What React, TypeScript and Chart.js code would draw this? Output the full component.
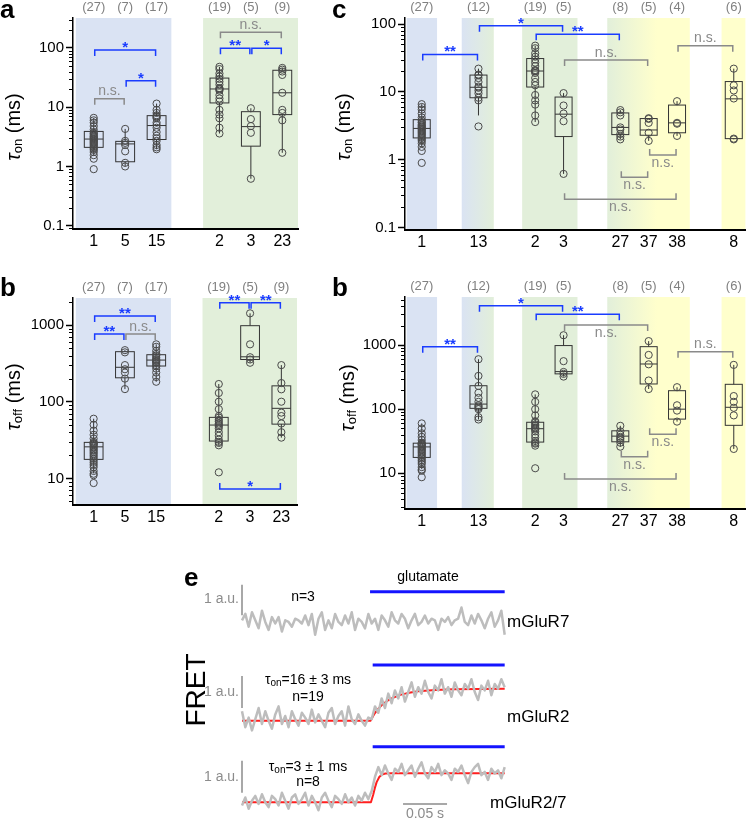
import React, { useEffect, useRef } from "react";
import { Chart, registerables } from "chart.js";
Chart.register(...registerables);

const FONT = "Arial, 'Liberation Sans', Helvetica, sans-serif";

// ---------------- τon (ms) values per construct ----------------
const onR1 = [0.9, 1.35, 1.55, 1.75, 1.9, 2.0, 2.1, 2.2, 2.3, 2.4, 2.5, 2.6, 2.7, 2.8, 2.9, 3.0, 3.1, 3.2, 3.3, 3.5, 3.6, 3.8, 4.2, 4.8, 5.5, 6.0, 6.6];
const onR5 = [1.0, 1.15, 1.8, 2.3, 2.5, 2.7, 4.3];
const onR15 = [1.95, 2.1, 2.3, 2.7, 3.0, 3.3, 3.8, 4.5, 5.0, 5.5, 6.5, 6.8, 7.0, 7.3, 8.0, 9.0, 11.5];
const onR2 = [3.6, 4.5, 6.5, 7.5, 9.0, 12.5, 14, 16, 19, 20, 20.5, 21, 24, 27, 30, 33, 37, 44, 48];
const onR3 = [0.62, 3.7, 4.8, 6.3, 9.6];
const onR23 = [1.7, 6.0, 8.0, 9.0, 17.5, 35, 40, 43, 46];
const onR13 = [3.1, 7.5, 8.2, 9.5, 10.5, 11.5, 12, 14, 16, 17.5, 18, 22];
const onR27 = [2.0, 2.2, 2.4, 2.8, 3.0, 4.5, 5.0, 5.4];
const onR37 = [1.9, 2.5, 3.5, 4.0, 4.1];
const onR38 = [2.25, 3.4, 3.5, 7.3];
const onR8 = [2.0, 2.05, 8.0, 10.5, 12.5, 22];

// box summaries: [whisker low, q1, median, q3, whisker high]
const onBoxR1 = [1.55, 2.1, 2.9, 3.9, 6.6];
const onBoxR5 = [1.0, 1.2, 2.4, 2.65, 4.3];
const onBoxR15 = [1.95, 2.85, 4.9, 7.2, 11.5];
const onBoxR2 = [3.6, 11.8, 20.3, 31, 48];
const onBoxR3 = [0.62, 2.2, 4.7, 8.4, 9.6];
const onBoxR23 = [1.7, 7.5, 17.5, 42, 46];
const onBoxR13 = [4.5, 8.2, 11.7, 17.7, 22];
const onBoxR27 = [2.0, 2.35, 3.0, 4.9, 5.4];
const onBoxR37 = [1.9, 2.3, 2.75, 4.05, 4.1];
const onBoxR38 = [2.25, 2.5, 3.5, 6.4, 7.3];
const onBoxR8 = [2.0, 2.05, 7.9, 14.2, 22];

// ---------------- τoff (ms) values per construct ----------------
const offR1 = [8.7, 11, 11.5, 12.5, 14, 15, 16, 17, 18, 19, 20, 21, 22, 23, 24, 25, 26, 27, 28, 28.5, 29, 30, 33, 37, 42, 50, 60];
const offR5 = [146, 200, 240, 265, 300, 440, 470];
const offR15 = [182, 210, 240, 270, 290, 300, 320, 330, 340, 350, 360, 380, 400, 420, 460, 520, 560];
const offR2 = [12, 27, 29, 30, 32, 36, 40, 45, 48, 50, 52, 55, 58, 62, 65, 80, 100, 130, 170];
const offR3 = [322, 355, 380, 560, 1420];
const offR23 = [34, 40, 52, 65, 72, 100, 145, 175, 300];
const offR13 = [69, 75, 100, 105, 110, 115, 130, 150, 180, 230, 330, 600];
const offR27 = [26, 30, 33, 35, 37, 40, 45, 55];
const offR37 = [206, 280, 500, 700, 1150];
const offR38 = [64, 95, 115, 220];
const offR8 = [24, 80, 105, 130, 160, 490];

const offBoxR1 = [11.6, 17.7, 25.8, 29.5, 60];
const offBoxR5 = [146, 205, 281, 449, 470];
const offBoxR15 = [182, 292, 349, 410, 560];
const offBoxR2 = [27, 30.7, 49.6, 62.5, 170];
const offBoxR3 = [322, 355, 385, 980, 1420];
const offBoxR23 = [34, 51, 82, 161, 300];
const offBoxR13 = [69, 103, 120, 232, 600];
const offBoxR27 = [26, 31, 38, 46, 55];
const offBoxR37 = [206, 247, 506, 942, 1150];
const offBoxR38 = [64, 70, 100, 194, 220];
const offBoxR8 = [24, 56, 107, 244, 490];

// ---------------- categories ----------------
const shortCats = ["1", "5", "15", "2", "3", "23"];
const shortPos = [0, 1, 2, 4, 5, 6];
const shortN = ["(27)", "(7)", "(17)", "(19)", "(5)", "(9)"];
const longCats = ["1", "13", "2", "3", "27", "37", "38", "8"];
const longPos = [0, 2, 4, 5, 7, 8, 9, 11];
const longN = ["(27)", "(12)", "(19)", "(5)", "(8)", "(5)", "(4)", "(6)"];

const onTicks = [0.1, 1, 10, 100];
const offTicks = [10, 100, 1000];

// significance brackets: [from, to, level (ms), label, tips, label side]
const bracketsA = [
  [0, 2, 92, "*", "down", "above"],
  [1, 2, 28, "*", "down", "above"],
  [0, 1, 13.9, "n.s.", "down", "above"],
  [4, 6, 184, "n.s.", "down", "above"],
  [4, 5, 99, "**", "down", "above"],
  [5, 6, 99, "*", "down", "above"],
];
const bracketsBL = [
  [0, 2, 1310, "**", "down", "above"],
  [0, 1, 763, "**", "down", "above"],
  [1, 2, 763, "n.s.", "down", "above"],
  [4, 5, 1954, "**", "down", "above"],
  [5, 6, 1954, "**", "down", "above"],
  [4, 6, 7.25, "*", "up", "above"],
];
const bracketsC = [
  [0, 2, 35.7, "**", "down", "above"],
  [2, 5, 94.4, "*", "down", "above"],
  [4, 7, 70.5, "**", "down", "above"],
  [5, 8, 29.5, "n.s.", "down", "above"],
  [9, 11, 48, "n.s.", "down", "above"],
  [8, 9, 1.18, "n.s.", "up", "below"],
  [7, 8, 0.552, "n.s.", "up", "below"],
  [5, 9, 0.262, "n.s.", "up", "below"],
];
const bracketsBR = [
  [0, 2, 942, "**", "down", "above"],
  [2, 5, 4100, "*", "down", "above"],
  [4, 7, 3010, "**", "down", "above"],
  [5, 8, 2050, "n.s.", "down", "below"],
  [9, 11, 787, "n.s.", "down", "above"],
  [8, 9, 40.5, "n.s.", "up", "below"],
  [7, 8, 18.1, "n.s.", "up", "below"],
  [5, 9, 8.15, "n.s.", "up", "below"],
];

// ---------------- panel e: FRET traces (a.u.) ----------------
const traceDuration = 0.2985; // s
const glutamateWindow = [0.147, 0.2985];
const traceR7 = [
  0.05, 0.25, -0.15, 0.3, 0.05, -0.2, 0.35, 0.0, -0.25, 0.15,
  -0.05, 0.15, -0.3, 0.05, 0.0, -0.15, 0.1, 0.05, -0.05, 0.2,
  -0.1, 0.25, -0.4, 0.1, 0.3, -0.25, 0.05, -0.2, 0.25, 0.0,
  -0.1, 0.2, -0.05, 0.3, -0.25, 0.1, 0.0, -0.2, 0.25, -0.05,
  0.1, -0.25, 0.2, 0.05, -0.15, 0.3, 0.05, -0.05, 0.25, 0.1,
  -0.2, 0.05, 0.25, -0.1, 0.0, 0.2, -0.05, 0.1, 0.05, -0.25,
  0.1, 0.0, 0.15, -0.1, 0.05, 0.1, 0.45, 0.0, -0.1, 0.2,
  -0.05, 0.25, 0.05, -0.2, 0.1, 0.3, -0.15, 0.05, 0.35, -0.4,
];
const traceR2 = [
  0.3, -0.2, 0.1, -0.3, 0.05, 0.4, -0.1, 0.3, 0.0, -0.25,
  0.2, 0.45, -0.1, 0.15, -0.2, 0.3, 0.05, -0.15, 0.25, 0.1,
  -0.1, 0.35, -0.05, 0.2, 0.0, -0.2, 0.25, 0.4, -0.1, 0.15,
  0.3, -0.15, 0.45, 0.05, -0.1, 0.2, 0.0, -0.15, 0.1,
  0.05, 0.45, 0.25, 0.7, 0.4, 0.85, 0.55, 0.95, 0.7, 1.05,
  0.6, 0.9, 1.2, 0.75, 1.05, 0.85, 1.25, 0.9, 0.7, 1.1,
  0.95, 1.3, 0.85, 1.05, 0.75, 1.2, 0.95, 0.8, 1.15, 1.0,
  1.3, 0.9, 0.65, 1.1, 0.95, 1.25, 0.8, 1.15, 1.0, 1.3,
  1.05,
];
const traceR27 = [
  -0.1, 0.15, -0.2, 0.05, 0.2, -0.05, 0.25, 0.0, -0.15, 0.2,
  0.1, -0.1, 0.3, 0.05, -0.2, 0.15, 0.25, -0.05, 0.1, 0.3,
  -0.1, 0.2, 0.0, -0.25, 0.15, 0.3, 0.05, -0.15, 0.2, 0.1,
  -0.05, 0.25, 0.0, 0.15, -0.1, 0.2, 0.05, 0.3, 0.1,
  0.35, 0.8, 1.1, 0.85, 1.15, 0.9, 0.7, 1.05, 0.95, 1.2,
  0.85, 1.0, 1.15, 0.8, 1.05, 1.25, 0.9, 0.75, 1.1, 0.95,
  1.2, 0.85, 1.0, 0.9, 0.7, 1.05, 0.95, 1.15, 0.85, 0.6,
  0.95, 1.1, 1.2, 0.85, 0.95, 0.7, 1.05, 0.9, 1.0, 0.75,
  1.1,
];
const fitR2T = [0, 0.146, 0.15, 0.155, 0.16, 0.165, 0.17, 0.18, 0.19, 0.2, 0.22, 0.24, 0.27, 0.2985];
const fitR2V = [0, 0, 0.2, 0.38, 0.52, 0.62, 0.7, 0.81, 0.88, 0.925, 0.965, 0.985, 0.995, 1.0];
const fitR27T = [0, 0.1465, 0.149, 0.151, 0.153, 0.156, 0.159, 0.163, 0.17, 0.2985];
const fitR27V = [0, 0, 0.23, 0.45, 0.63, 0.79, 0.87, 0.9, 0.91, 0.91];

// ---------------- styles ----------------
const BLUE_BAND = "#dae3f3";
const GREEN_BAND = "#e2efda";
const YELLOW_BAND = "#ffffcc";
const SIG_BLUE = "#1a3cff";
const NS_GRAY = "#8a8a8a";
const COUNT_GRAY = "#808080";

const bandsShort = [
  { from: -0.57, to: 2.47, colors: [BLUE_BAND] },
  { from: 3.48, to: 6.5, colors: [GREEN_BAND] },
];
const bandsLong = [
  { from: -0.53, to: 0.54, colors: [BLUE_BAND] },
  { from: 1.41, to: 2.54, colors: [BLUE_BAND, GREEN_BAND], stops: [0, 1] },
  { from: 3.54, to: 5.49, colors: [GREEN_BAND] },
  { from: 6.54, to: 9.45, colors: [GREEN_BAND, YELLOW_BAND, YELLOW_BAND], stops: [0, 0.6, 1] },
  { from: 10.57, to: 11.41, colors: [YELLOW_BAND] },
];

type Part = { t: string; font: string; dy?: number };
function drawRich(ctx: any, parts: Part[], x: number, y: number, align: string) {
  let w = 0;
  parts.forEach((p) => { ctx.font = p.font; w += ctx.measureText(p.t).width; });
  let cx = align === "center" ? x - w / 2 : align === "right" ? x - w : x;
  ctx.textAlign = "left";
  parts.forEach((p) => {
    ctx.font = p.font;
    ctx.fillText(p.t, cx, y + (p.dy || 0));
    cx += ctx.measureText(p.t).width;
  });
}

const panelA = {
  letter: "a", sub: "on", positions: shortPos, xLabels: shortCats, counts: shortN,
  groups: [onR1, onR5, onR15, onR2, onR3, onR23],
  boxes: [onBoxR1, onBoxR5, onBoxR15, onBoxR2, onBoxR3, onBoxR23],
  brackets: bracketsA, bands: bandsShort, majors: onTicks,
  yMin: 0.088, yMax: 320, xMin: -0.66, xMax: 6.5,
  left: 0, top: 0, width: 310, height: 255, padTop: 18, padRight: 12, yAxisW: 73, xAxisH: 26,
  letterAt: [0, 18], titleAt: [14, 127],
};
const panelC = {
  letter: "c", sub: "on", positions: longPos, xLabels: longCats, counts: longN,
  groups: [onR1, onR13, onR2, onR3, onR27, onR37, onR38, onR8],
  boxes: [onBoxR1, onBoxR13, onBoxR2, onBoxR3, onBoxR27, onBoxR37, onBoxR38, onBoxR8],
  brackets: bracketsC, bands: bandsLong, majors: onTicks,
  yMin: 0.0925, yMax: 122.6, xMin: -0.59, xMax: 11.41,
  left: 320, top: 0, width: 430, height: 255, padTop: 18, padRight: 3, yAxisW: 85, xAxisH: 25,
  letterAt: [332, 18], titleAt: [344, 127],
};
const panelBL = {
  letter: "b", sub: "off", positions: shortPos, xLabels: shortCats, counts: shortN,
  groups: [offR1, offR5, offR15, offR2, offR3, offR23],
  boxes: [offBoxR1, offBoxR5, offBoxR15, offBoxR2, offBoxR3, offBoxR23],
  brackets: bracketsBL, bands: bandsShort, majors: offTicks,
  yMin: 4.5, yMax: 2250, xMin: -0.66, xMax: 6.5,
  left: 0, top: 270, width: 310, height: 260, padTop: 28, padRight: 13, yAxisW: 73, xAxisH: 25,
  letterAt: [0, 296], titleAt: [14, 397],
};
const panelBR = {
  letter: "b", sub: "off", positions: longPos, xLabels: longCats, counts: longN,
  groups: [offR1, offR13, offR2, offR3, offR27, offR37, offR38, offR8],
  boxes: [offBoxR1, offBoxR13, offBoxR2, offBoxR3, offBoxR27, offBoxR37, offBoxR38, offBoxR8],
  brackets: bracketsBR, bands: bandsLong, majors: offTicks,
  yMin: 2.78, yMax: 5600, xMin: -0.59, xMax: 11.41,
  left: 320, top: 270, width: 430, height: 265, padTop: 27, padRight: 3, yAxisW: 85, xAxisH: 26,
  letterAt: [332, 296], titleAt: [348, 398],
};

function fmtTick(v: number) {
  return v < 1 ? String(Math.round(v * 10) / 10) : String(Math.round(v));
}

function makeBoxChart(canvas: HTMLCanvasElement, s: any) {
  const points: any[] = [];
  s.groups.forEach((g: number[], i: number) => g.forEach((v) => points.push({ x: s.positions[i], y: v })));
  const minors: number[] = [];
  for (let d = Math.floor(Math.log10(s.yMin)); d <= Math.ceil(Math.log10(s.yMax)); d++) {
    for (let k = 2; k <= 9; k++) {
      const v = k * Math.pow(10, d);
      if (v >= s.yMin && v <= s.yMax) minors.push(v);
    }
  }
  const deco = {
    id: "deco",
    beforeDraw(chart: any) {
      const { ctx, chartArea } = chart;
      const xs = chart.scales.x;
      ctx.save();
      s.bands.forEach((b: any) => {
        const x0 = xs.getPixelForValue(b.from);
        const x1 = xs.getPixelForValue(b.to);
        if (b.colors.length > 1) {
          const g = ctx.createLinearGradient(x0, 0, x1, 0);
          b.colors.forEach((c: string, i: number) => g.addColorStop(b.stops[i], c));
          ctx.fillStyle = g;
        } else ctx.fillStyle = b.colors[0];
        ctx.fillRect(x0, chartArea.top, x1 - x0, chartArea.bottom - chartArea.top);
      });
      ctx.restore();
    },
    beforeDatasetsDraw(chart: any) {
      const { ctx } = chart;
      const xs = chart.scales.x;
      const ys = chart.scales.y;
      ctx.save();
      ctx.strokeStyle = "#333";
      ctx.lineWidth = 1;
      s.boxes.forEach((bx: number[], i: number) => {
        const p = s.positions[i];
        const cx = xs.getPixelForValue(p);
        const half = xs.getPixelForValue(p + 0.3) - cx;
        const [wl, q1, md, q3, wh] = bx.map((v) => ys.getPixelForValue(v));
        ctx.beginPath();
        ctx.moveTo(cx, wh); ctx.lineTo(cx, q3);
        ctx.moveTo(cx, q1); ctx.lineTo(cx, wl);
        ctx.stroke();
        ctx.strokeRect(cx - half, q3, 2 * half, q1 - q3);
        ctx.beginPath();
        ctx.moveTo(cx - half, md); ctx.lineTo(cx + half, md);
        ctx.stroke();
      });
      ctx.restore();
    },
    afterDatasetsDraw(chart: any) {
      const { ctx } = chart;
      const xs = chart.scales.x;
      const ys = chart.scales.y;
      ctx.save();
      s.brackets.forEach((b: any[]) => {
        const [from, to, level, label, tips, side] = b;
        const sig = label !== "n.s.";
        const x0 = xs.getPixelForValue(from) + 1;
        const x1 = xs.getPixelForValue(to) - 1;
        const py = ys.getPixelForValue(level);
        const tip = tips === "down" ? 6 : -6;
        ctx.strokeStyle = sig ? SIG_BLUE : NS_GRAY;
        ctx.lineWidth = 1.5;
        ctx.beginPath();
        ctx.moveTo(x0, py + tip); ctx.lineTo(x0, py); ctx.lineTo(x1, py); ctx.lineTo(x1, py + tip);
        ctx.stroke();
        ctx.fillStyle = sig ? SIG_BLUE : NS_GRAY;
        ctx.font = sig ? `bold 15px ${FONT}` : `14px ${FONT}`;
        ctx.textAlign = "center";
        ctx.textBaseline = "alphabetic";
        const by = sig ? py + 2 : side === "above" ? py - 3.5 : py + 12;
        ctx.fillText(label, (x0 + x1) / 2, by);
      });
      ctx.restore();
    },
    afterDraw(chart: any) {
      const { ctx, chartArea } = chart;
      const xs = chart.scales.x;
      const ys = chart.scales.y;
      ctx.save();
      ctx.strokeStyle = "#000";
      ctx.lineWidth = 1;
      minors.forEach((v) => {
        const py = Math.round(ys.getPixelForValue(v)) + 0.5;
        ctx.beginPath();
        ctx.moveTo(chartArea.left - 4, py);
        ctx.lineTo(chartArea.left, py);
        ctx.stroke();
      });
      ctx.fillStyle = COUNT_GRAY;
      ctx.font = `13px ${FONT}`;
      ctx.textAlign = "center";
      ctx.textBaseline = "alphabetic";
      s.counts.forEach((c: string, i: number) => {
        ctx.fillText(c, xs.getPixelForValue(s.positions[i]), chartArea.top - 7);
      });
      ctx.fillStyle = "#000";
      ctx.font = `bold 26px ${FONT}`;
      ctx.textAlign = "left";
      ctx.fillText(s.letter, s.letterAt[0] - s.left, s.letterAt[1] - s.top);
      ctx.translate(s.titleAt[0] - s.left, s.titleAt[1] - s.top);
      ctx.rotate(-Math.PI / 2);
      ctx.textBaseline = "middle";
      drawRich(ctx, [
        { t: "τ", font: `italic 20px ${FONT}` },
        { t: s.sub, font: `13px ${FONT}`, dy: 4 },
        { t: " (ms)", font: `20px ${FONT}` },
      ], 0, 0, "center");
      ctx.restore();
    },
  };
  return new Chart(canvas, {
    type: "scatter",
    data: {
      datasets: [{
        data: points,
        pointRadius: 3.6,
        pointHoverRadius: 3.6,
        pointBackgroundColor: "rgba(0,0,0,0)",
        pointBorderColor: "#4a4a4a",
        pointBorderWidth: 1,
        showLine: false,
      }],
    },
    options: {
      responsive: false,
      animation: false,
      events: [],
      layout: { padding: { top: s.padTop, right: s.padRight, left: 0, bottom: 0 } },
      plugins: { legend: { display: false }, tooltip: { enabled: false } },
      scales: {
        x: {
          type: "linear",
          min: s.xMin,
          max: s.xMax,
          afterBuildTicks: (axis: any) => { axis.ticks = s.positions.map((v: number) => ({ value: v })); },
          afterFit: (axis: any) => { axis.height = s.xAxisH; },
          ticks: {
            autoSkip: false, maxRotation: 0, padding: 3, color: "#000",
            font: { family: FONT, size: 16 },
            callback: (_v: any, i: number) => s.xLabels[i],
          },
          grid: { drawOnChartArea: false, drawTicks: false },
          border: { display: true, color: "#000", width: 2 },
        },
        y: {
          type: "logarithmic",
          min: s.yMin,
          max: s.yMax,
          afterBuildTicks: (axis: any) => { axis.ticks = s.majors.map((v: number) => ({ value: v, major: true })); },
          afterFit: (axis: any) => { axis.width = s.yAxisW; },
          ticks: {
            autoSkip: false, padding: 2, color: "#000",
            font: { family: FONT, size: 15 },
            callback: (v: any) => fmtTick(Number(v)),
          },
          grid: { drawOnChartArea: false, drawTicks: true, tickLength: 7, tickColor: "#000", tickWidth: 1.5 },
          border: { display: true, color: "#000", width: 1.5 },
        },
      },
    },
    plugins: [deco],
  } as any);
}

function BoxPanel({ spec }: { spec: any }) {
  const ref = useRef<HTMLCanvasElement | null>(null);
  useEffect(() => {
    const c = makeBoxChart(ref.current as HTMLCanvasElement, spec);
    return () => c.destroy();
  }, [spec]);
  return (
    <canvas ref={ref} width={spec.width} height={spec.height}
      style={{ position: "absolute", left: spec.left, top: spec.top, width: spec.width, height: spec.height }} />
  );
}

// ---------------- panel e ----------------
const E_LEFT = 180, E_TOP = 560, E_W = 400, E_H = 260;

function makeTraceChart(canvas: HTMLCanvasElement) {
  const series = (vals: number[], base: number) =>
    vals.map((v, i) => ({ x: (i * traceDuration) / (vals.length - 1), y: base + v }));
  const fit = (ts: number[], vs: number[], base: number) => ts.map((t, i) => ({ x: t, y: base + vs[i] }));
  const seg = (x0: number, y0: number, x1: number, y1: number) => [{ x: x0, y: y0 }, { x: x1, y: y1 }];
  const line = (data: any[], color: string, width: number) => ({
    data, borderColor: color, borderWidth: width, pointRadius: 0, fill: false, tension: 0,
    borderJoinStyle: "round", borderCapStyle: "butt",
  });
  const baseR7 = 6.19, baseR2 = 3.1, baseR27 = 0.553;
  const GRAY = "#bdbdbd", RED = "#ff1f1f", BLUE = "#1414ff", BAR = "#a8a8a8";
  const datasets = [
    line(series(traceR7, baseR7), GRAY, 2.5),
    line(series(traceR2, baseR2), GRAY, 2.5),
    line(series(traceR27, baseR27), GRAY, 2.5),
    line(fit(fitR2T, fitR2V, baseR2), RED, 2),
    line(fit(fitR27T, fitR27V, baseR27), RED, 2),
    line(seg(glutamateWindow[0] - 0.0015, 7.134, glutamateWindow[1], 7.134), BLUE, 3),
    line(seg(glutamateWindow[0] + 0.0015, 4.844, glutamateWindow[1], 4.844), BLUE, 3),
    line(seg(glutamateWindow[0] + 0.0015, 2.29, glutamateWindow[1], 2.29), BLUE, 3),
    line(seg(0, 6.4, 0, 7.35), BAR, 2),
    line(seg(0, 3.5, 0, 4.5), BAR, 2),
    line(seg(0, 0.85, 0, 1.85), BAR, 2),
    line(seg(0.183, 0.5, 0.233, 0.5), BAR, 2),
  ];
  const texts = {
    id: "etexts",
    afterDraw(chart: any) {
      const { ctx } = chart;
      const X = (px: number) => px - E_LEFT;
      const Y = (py: number) => py - E_TOP;
      ctx.save();
      ctx.fillStyle = "#000";
      ctx.textBaseline = "alphabetic";
      ctx.textAlign = "left";
      ctx.font = `bold 26px ${FONT}`;
      ctx.fillText("e", X(184), Y(586));
      ctx.textBaseline = "middle";
      ctx.font = `14px ${FONT}`;
      ctx.textAlign = "center";
      ctx.fillText("glutamate", X(428), Y(577));
      ctx.fillText("n=3", X(303), Y(597));
      ctx.fillText("n=19", X(308), Y(697));
      ctx.fillText("n=8", X(308), Y(782));
      drawRich(ctx, [
        { t: "τ", font: `14px ${FONT}` },
        { t: "on", font: `10px ${FONT}`, dy: 3 },
        { t: "=16 ± 3 ms", font: `14px ${FONT}` },
      ], X(308), Y(680), "center");
      drawRich(ctx, [
        { t: "τ", font: `14px ${FONT}` },
        { t: "on", font: `10px ${FONT}`, dy: 3 },
        { t: "=3 ± 1 ms", font: `14px ${FONT}` },
      ], X(308), Y(767), "center");
      ctx.fillStyle = "#8c8c8c";
      ctx.font = `14px ${FONT}`;
      ctx.textAlign = "right";
      ctx.fillText("1 a.u.", X(239), Y(599));
      ctx.fillText("1 a.u.", X(239), Y(692));
      ctx.fillText("1 a.u.", X(239), Y(777));
      ctx.textAlign = "center";
      ctx.fillText("0.05 s", X(425), Y(814));
      ctx.fillStyle = "#000";
      ctx.font = `17px ${FONT}`;
      ctx.textAlign = "left";
      ctx.fillText("mGluR7", X(507), Y(622));
      ctx.fillText("mGluR2", X(507), Y(717));
      ctx.fillText("mGluR2/7", X(490), Y(803));
      ctx.translate(X(197), Y(690));
      ctx.rotate(-Math.PI / 2);
      ctx.font = `28px ${FONT}`;
      ctx.textAlign = "center";
      ctx.fillText("FRET", 0, 0);
      ctx.restore();
    },
  };
  return new Chart(canvas, {
    type: "line",
    data: { datasets },
    options: {
      responsive: false,
      animation: false,
      events: [],
      layout: { padding: 0 },
      plugins: { legend: { display: false }, tooltip: { enabled: false } },
      scales: {
        x: { type: "linear", display: false, min: (E_LEFT - 242) / 880, max: (E_LEFT + E_W - 242) / 880 },
        y: { type: "linear", display: false, min: 0, max: E_H / 32 },
      },
    },
    plugins: [texts],
  } as any);
}

function TracePanel() {
  const ref = useRef<HTMLCanvasElement | null>(null);
  useEffect(() => {
    const c = makeTraceChart(ref.current as HTMLCanvasElement);
    return () => c.destroy();
  }, []);
  return (
    <canvas ref={ref} width={E_W} height={E_H}
      style={{ position: "absolute", left: E_LEFT, top: E_TOP, width: E_W, height: E_H }} />
  );
}

export default function App() {
  return (
    <div style={{ position: "absolute", left: 0, top: 0, width: 750, height: 820, background: "#fff", overflow: "hidden" }}>
      <BoxPanel spec={panelA} />
      <BoxPanel spec={panelC} />
      <BoxPanel spec={panelBL} />
      <BoxPanel spec={panelBR} />
      <TracePanel />
    </div>
  );
}
